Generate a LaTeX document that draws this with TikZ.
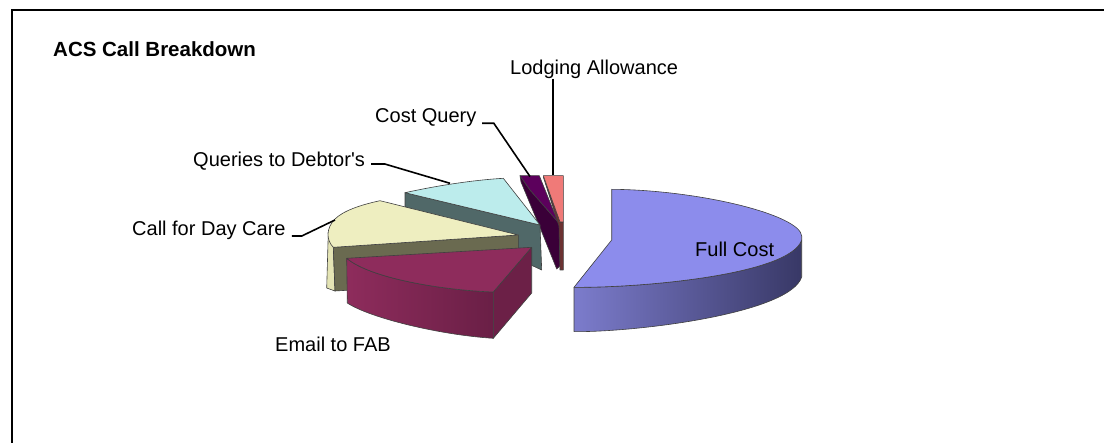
\documentclass[tikz,border=0pt]{standalone}
\usepackage{fontspec}
\setmainfont{Liberation Sans}
\definecolor{fulltop}{HTML}{8C8CEC}
\definecolor{fullside}{HTML}{7C7CCC}
\definecolor{fulldark}{HTML}{383866}
\definecolor{emailtop}{HTML}{8E2C5C}
\definecolor{emaildark}{HTML}{6A1F46}
\definecolor{caretop}{HTML}{EEEEC0}
\definecolor{careside}{HTML}{E4E4B4}
\definecolor{carecut}{HTML}{6A6A50}
\definecolor{debttop}{HTML}{BCECEC}
\definecolor{debtcut}{HTML}{506868}
\definecolor{querytop}{HTML}{5C005C}
\definecolor{querycut}{HTML}{3A0038}
\definecolor{lodgetop}{HTML}{F07A78}
\definecolor{lodgecut}{HTML}{6C3232}
\begin{document}
\begin{tikzpicture}[x=1pt,y=-1pt,
    face/.style={draw=black!75,line width=0.6pt,line join=round},
    lbl/.style={inner sep=0pt,anchor=base west,font=\fontsize{20}{24}\selectfont},
    leader/.style={draw=black,line width=1.6pt}]
\useasboundingbox (0,0) rectangle (1104,443);
\draw[line width=1.2pt] (1104,10) -- (12,10) -- (12,443);
\node[lbl,font=\bfseries\fontsize{20.5}{24}\selectfont] (title) at (53,57) {ACS Call Breakdown};

% Cost Query
\draw[face,fill=querycut] (520,175.7) -- (530,190) -- (558,222) -- (560,223) -- (560,266)
    -- (556.7,269) -- (541,230) -- (521,182) -- cycle;
\draw[face,fill=querytop] (520,175.7) -- (539.3,175.7) -- (558,222) -- (530,190) -- cycle;
% Lodging Allowance
\draw[face,fill=lodgecut] (543.3,177) -- (560,222) -- (563.3,222) -- (563.3,270)
    -- (560,270) -- (559,226) -- cycle;
\draw[face,fill=lodgetop] (543.3,175.7) -- (563.3,175.7) -- (563.3,222) -- (560,222) -- cycle;
% Queries to Debtor's
\draw[face,fill=debtcut] (405,192.7) -- (540,225) -- (541.7,270) -- (405,206.7) -- cycle;
\draw[face,fill=debttop] (405,192.7) .. controls (440,185) and (475,180) .. (503.3,178.3)
    -- (540,225) -- cycle;
% Call for Day Care
\draw[face,fill=careside] (328.3,232) -- (326.7,288) -- (335,291) -- (333.3,247.3) -- cycle;
\draw[face,fill=carecut] (333.3,247.3) -- (518.3,235) -- (518.3,280) -- (335,291) -- cycle;
\draw[face,fill=caretop] (518.3,235) -- (380,200.7) .. controls (360,205) and (343,211) .. (335,219)
    .. controls (326,228) and (326,240) .. (333.3,247.3) -- cycle;
% Email to FAB
\draw[face,left color=emailtop,right color=emaildark] (346.7,258.3) -- (347.3,303)
    .. controls (370,318) and (440,335) .. (493.3,338.3) -- (493.3,292)
    .. controls (440,290) and (370,278) .. (346.7,258.3) -- cycle;
\draw[face,fill=emaildark!95!emailtop] (493.3,292) -- (531.7,247.3) -- (531.7,293) -- (493.3,338.3) -- cycle;
\draw[face,fill=emailtop] (346.7,258.3) -- (531.7,247.3) -- (493.3,292)
    .. controls (440,290) and (370,278) .. (346.7,258.3) -- cycle;
% Full Cost
\draw[face,left color=fullside,right color=fulldark] (574,287.3) -- (574,331.7)
    .. controls (640,332) and (790,313) .. (801.7,277) -- (801.7,240)
    .. controls (790,275) and (640,288) .. (574,287.3) -- cycle;
\draw[face,fill=fulltop] (611.7,189.3) -- (611.7,240) -- (574,287.3)
    .. controls (640,288) and (790,275) .. (801.7,240) -- (801.7,236)
    .. controls (800,215) and (700,190) .. (611.7,189.3) -- cycle;

% labels
\node[lbl] (lodge) at (510,74.3) {Lodging Allowance};
\node[lbl] (cost) at (375,122.5) {Cost Query};
\node[lbl] (debt) at (193,166.5) {Queries to Debtor\textquotesingle s};
\node[lbl] (care) at (132,236) {Call for Day Care};
\node[lbl] (email) at (275,351.7) {Email to FAB};
\node[lbl] (full) at (695,256.7) {Full Cost};

\coordinate (lodgetip) at (552.7,175.5);
\coordinate (costtip) at (530,176.5);
\coordinate (debttip) at (450,183.3);
\coordinate (caretip) at (335,220);
\draw[leader] (lodgetip |- lodge.south) -- (lodgetip);
\draw[leader] ([xshift=5.7pt,yshift=-0.8pt]cost.base east) -- ++(11.6,0) -- (costtip);
\draw[leader] ([xshift=6pt,yshift=2.5pt]debt.base east) -- ++(13.7,0) -- (debttip);
\draw[leader] ([xshift=6pt,yshift=0pt]care.base east) -- ++(10,0) -- (caretip);
\end{tikzpicture}
\end{document}
